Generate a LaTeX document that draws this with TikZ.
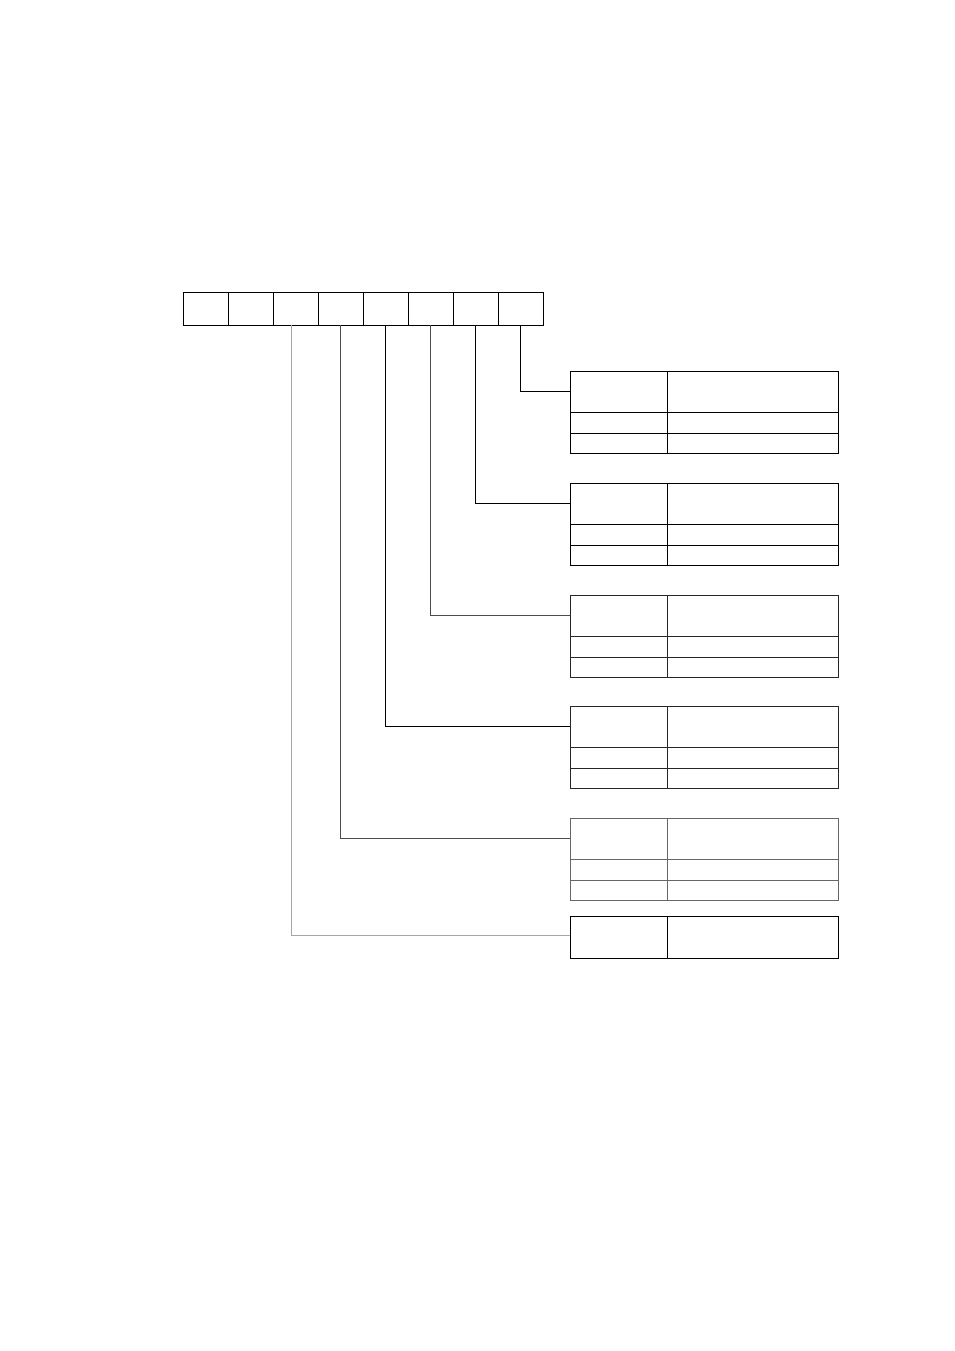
\documentclass[tikz,border=0pt]{standalone}
\begin{document}
\begin{tikzpicture}[x=1pt,y=-1pt,
  cell/.style={draw, line width=0.8pt, minimum width=45pt, minimum height=33pt, inner sep=0pt, outer sep=0pt, anchor=north west},
  tcell/.style={draw, line width=0.8pt, inner sep=0pt, outer sep=0pt, anchor=north west},
  conn/.style={line width=0.8pt}]
\useasboundingbox (0,0) rectangle (954,1351);
\fill[white] (0,0) rectangle (954,1351);
% register
\foreach \i in {0,...,7}{
  \node[cell] (r\i) at ({183+45*\i},292) {};
}
% tables with three rows
\foreach \n/\t/\c in {1/371/black,2/483/black,3/595/black!85,4/706/black!85,5/818/black!60}{
  \node[tcell, draw=\c, minimum width=97pt, minimum height=41pt] (L\n a) at (570,\t) {};
  \node[tcell, draw=\c, minimum width=171pt, minimum height=41pt] (R\n a) at (667,\t) {};
  \node[tcell, draw=\c, minimum width=97pt, minimum height=21pt] (L\n b) at (570,\t+41) {};
  \node[tcell, draw=\c, minimum width=171pt, minimum height=21pt] (R\n b) at (667,\t+41) {};
  \node[tcell, draw=\c, minimum width=97pt, minimum height=20pt] (L\n c) at (570,\t+62) {};
  \node[tcell, draw=\c, minimum width=171pt, minimum height=20pt] (R\n c) at (667,\t+62) {};
}
% single-row table
\node[tcell, minimum width=97pt, minimum height=42pt] (L6a) at (570,916) {};
\node[tcell, minimum width=171pt, minimum height=42pt] (R6a) at (667,916) {};
% connectors
\draw[conn] (r7.south) |- (L1a.west);
\draw[conn] (r6.south) |- (L2a.west);
\draw[conn, black!70] (r5.south) |- (L3a.west);
\draw[conn] (r4.south) |- (L4a.west);
\draw[conn, black!70] (r3.south) |- (L5a.west);
\draw[conn, black!35] ([xshift=-4.5pt]r2.south) |- ([yshift=2pt]L6a.west);
\end{tikzpicture}
\end{document}
